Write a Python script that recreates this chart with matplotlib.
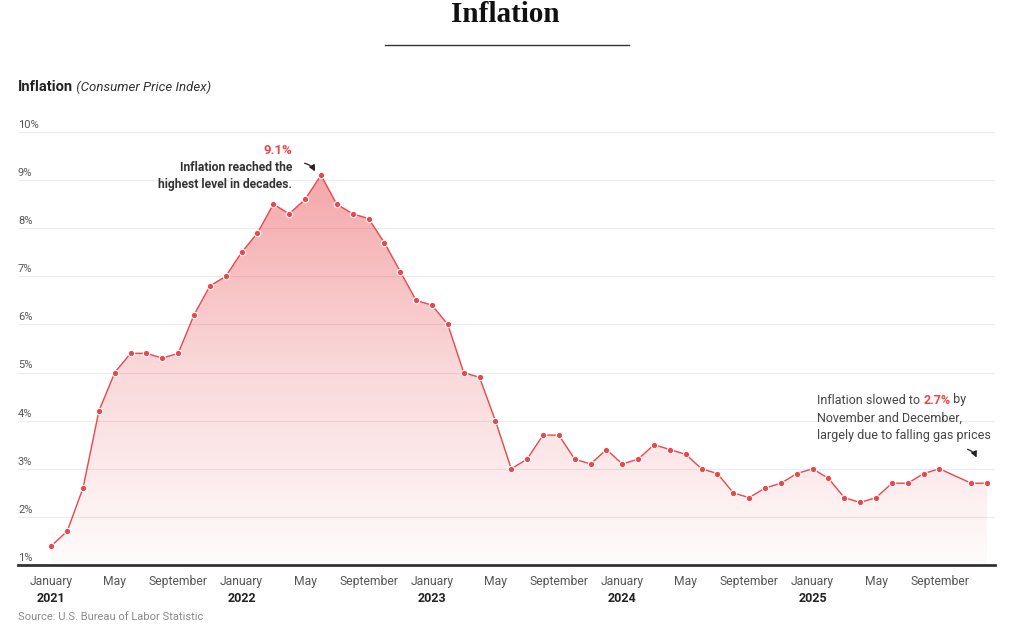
import numpy as np
import pandas as pd
import matplotlib
matplotlib.use("Agg")
import matplotlib.pyplot as plt
from matplotlib.colors import LinearSegmentedColormap

# ---------------- data ----------------
months = pd.date_range("2021-01-01", "2025-12-01", freq="MS")
cpi = [1.4, 1.7, 2.6, 4.2, 5.0, 5.4, 5.4, 5.3, 5.4, 6.2, 6.8, 7.0,
       7.5, 7.9, 8.5, 8.3, 8.6, 9.1, 8.5, 8.3, 8.2, 7.7, 7.1, 6.5,
       6.4, 6.0, 5.0, 4.9, 4.0, 3.0, 3.2, 3.7, 3.7, 3.2, 3.1, 3.4,
       3.1, 3.2, 3.5, 3.4, 3.3, 3.0, 2.9, 2.5, 2.4, 2.6, 2.7, 2.9,
       3.0, 2.8, 2.4, 2.3, 2.4, 2.7, 2.7, 2.9, 3.0, np.nan, 2.7, 2.7]
y_ticks = [1, 2, 3, 4, 5, 6, 7, 8, 9, 10]
y_tick_labels = ["1%", "2%", "3%", "4%", "5%", "6%", "7%", "8%", "9%", "10%"]
month_tick_names = {1: "January", 5: "May", 9: "September"}

# ---------------- figure ----------------
plt.rcParams['font.family'] = ['Roboto', 'DejaVu Sans']
W, H = 1024, 627
fig = plt.figure(figsize=(W / 100, H / 100), dpi=100)
fig.patch.set_facecolor("white")

ax_left, ax_right, ax_top, ax_bot = 18, 995, 132, 565
ax = fig.add_axes([ax_left / W, 1 - ax_bot / H, (ax_right - ax_left) / W, (ax_bot - ax_top) / H])

df = pd.DataFrame({"date": months, "cpi": cpi})
df["idx"] = np.arange(len(df))
valid = df.dropna()
x = valid["idx"].to_numpy()
y = valid["cpi"].to_numpy()

ax.set_xlim(-2.1, 59.5)
ax.set_ylim(1, 10)

red = "#e8474c"

# gradient fill under the line
poly = ax.fill_between(x, y, 1, color="none", lw=0)
cmap = LinearSegmentedColormap.from_list(
    "g", [(0.91, 0.28, 0.30, 0.02), (0.91, 0.28, 0.30, 0.22), (0.91, 0.28, 0.30, 0.50)],
)
grad = np.linspace(0, 1, 256).reshape(-1, 1)
im = ax.imshow(grad, extent=(x.min(), x.max(), 1, 9.4), origin="lower",
               aspect="auto", cmap=cmap, zorder=1)
path = poly.get_paths()[0]
im.set_clip_path(path, transform=ax.transData)

ax.plot(x, y, color=red, lw=1.0, zorder=3)
ax.plot(x, y, "o", color=red, ms=4.6, mec="white", mew=0.8, zorder=4)

# gridlines
for t in y_ticks:
    ax.axhline(t, color="#ececec", lw=0.8, zorder=0)
ax.set_xticks([])
ax.set_yticks([])
for s in ["top", "right", "left"]:
    ax.spines[s].set_visible(False)
ax.spines["bottom"].set_color("#333333")
ax.spines["bottom"].set_linewidth(2)

# y labels (above gridlines, left)
for t, lab in zip(y_ticks, y_tick_labels):
    ax.annotate(lab, xy=(0, t), xycoords=("axes fraction", "data"),
                xytext=(0, 1.5), textcoords="offset points",
                ha="left", va="bottom", fontsize=8, color="#555555")

# x labels
for i, d in zip(df["idx"], df["date"]):
    if d.month in month_tick_names:
        ax.annotate(month_tick_names[d.month], xy=(i, 0), xycoords=("data", "axes fraction"),
                    xytext=(0, -7.5), textcoords="offset points",
                    ha="center", va="top", fontsize=8.7, color="#555555")
        if d.month == 1:
            ax.annotate(str(d.year), xy=(i, 0), xycoords=("data", "axes fraction"),
                        xytext=(0, -19.5), textcoords="offset points",
                        ha="center", va="top", fontsize=9, color="#222222",
                        fontweight="bold")

# annotation: peak
peak_i = int(valid.loc[valid["cpi"].idxmax(), "idx"])
fig.text(292 / W, 1 - 151 / H, "9.1%", ha="right", va="center", fontsize=9.5,
         color=red, fontweight="bold")
fig.text(292 / W, 1 - 176 / H, "Inflation reached the\nhighest level in decades.",
         ha="right", va="center", fontsize=8.7, color="#333333",
         fontweight="bold", linespacing=1.35)
ax.annotate("", xy=(peak_i - 0.3, 9.13), xytext=(peak_i - 1.2, 9.36),
            arrowprops=dict(arrowstyle="-|>,head_length=0.35,head_width=0.18",
                            color="#222222", lw=0.9,
                            connectionstyle="arc3,rad=-0.3"))

# annotation: latest
t1 = fig.text(817 / W, 1 - 400 / H, "Inflation slowed to ", ha="left", va="center",
              fontsize=9.0, color="#444444")
t2 = ax.annotate("2.7%", xy=(1, 0), xycoords=t1, ha="left", va="bottom",
                 fontsize=9.0, color=red, fontweight="bold")
ax.annotate(" by", xy=(1, 0), xycoords=t2, ha="left", va="bottom",
            fontsize=9.0, color="#444444")
fig.text(817 / W, 1 - 427 / H, "November and December,\nlargely due to falling gas prices",
         ha="left", va="center", fontsize=9.0, color="#444444", linespacing=1.5)
last_i = int(valid["idx"].iloc[-1])
ax.annotate("", xy=(last_i - 0.6, 3.18), xytext=(last_i - 1.4, 3.42),
            arrowprops=dict(arrowstyle="-|>,head_length=0.35,head_width=0.18",
                            color="#222222", lw=0.9,
                            connectionstyle="arc3,rad=-0.3"))

# titles
fig.text(505 / W, 1 - 14 / H, "Inflation", ha="center", va="center",
         fontsize=21, fontweight="bold", family="Liberation Serif", color="#111111")
fig.add_artist(plt.Line2D([385 / W, 629 / W], [1 - 45 / H, 1 - 45 / H],
                          color="#333333", lw=1.0))
st = fig.text(18 / W, 1 - 87 / H, "Inflation", ha="left", va="center",
              fontsize=10.5, fontweight="bold", color="#222222")
ax.annotate(" (Consumer Price Index)", xy=(1, 0), xycoords=st, ha="left", va="bottom",
            fontsize=9.5, style="italic", color="#333333")

fig.text(18 / W, 1 - 617 / H, "Source: U.S. Bureau of Labor Statistic", ha="left",
         va="center", fontsize=8, color="#8a8a8a")

fig.savefig("out.png", dpi=100, facecolor="white")
